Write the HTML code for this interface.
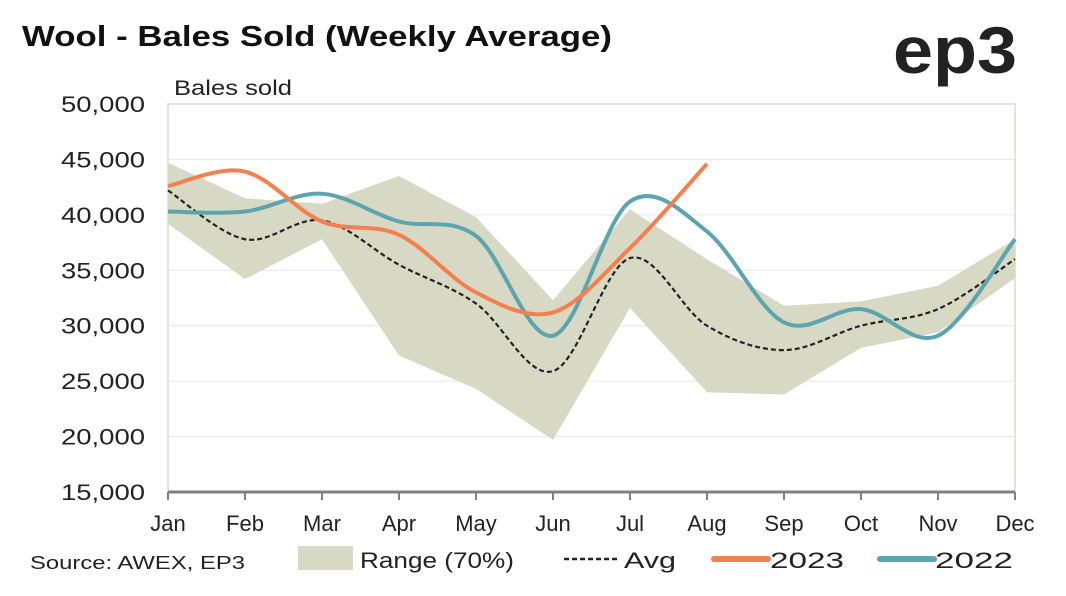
<!DOCTYPE html>
<html><head><meta charset="utf-8"><style>
body{margin:0;background:#fff;width:1066px;height:591px;overflow:hidden;font-family:"Liberation Sans",sans-serif}
</style></head><body>
<svg id="s" width="1066" height="591" xmlns="http://www.w3.org/2000/svg" font-family="Liberation Sans, sans-serif">
<text x="22" y="46" font-size="29" font-weight="bold" fill="#111" textLength="590" lengthAdjust="spacingAndGlyphs">Wool - Bales Sold (Weekly Average)</text>
<text x="893" y="73" font-size="66" font-weight="bold" fill="#222" textLength="124" lengthAdjust="spacingAndGlyphs">ep3</text>
<text x="174" y="95" font-size="21" fill="#222" textLength="118" lengthAdjust="spacingAndGlyphs">Bales sold</text>
<rect x="168" y="104" width="847" height="388" fill="none" stroke="#dcdcd0" stroke-width="1.5"/>
<g id="grid"></g>
<g id="series"></g>
<line x1="168" y1="492" x2="1015" y2="492" stroke="#808080" stroke-width="3"/>
<g id="ticks"></g>
<text x="30" y="569" font-size="18" fill="#222" textLength="215" lengthAdjust="spacingAndGlyphs">Source: AWEX, EP3</text>
<rect x="298" y="546" width="55" height="24" fill="#d8d9c5"/>
<text x="360" y="568" font-size="22" fill="#222" textLength="154" lengthAdjust="spacingAndGlyphs">Range (70%)</text>
<line x1="564" y1="559" x2="620" y2="559" stroke="#222" stroke-width="2.5" stroke-dasharray="5,3"/>
<text x="624" y="568" font-size="22" fill="#222" textLength="52" lengthAdjust="spacingAndGlyphs">Avg</text>
<line x1="714" y1="559" x2="768" y2="559" stroke="#f47f4f" stroke-width="6" stroke-linecap="round"/>
<text x="770" y="568" font-size="22" fill="#222" textLength="74" lengthAdjust="spacingAndGlyphs">2023</text>
<line x1="880" y1="559" x2="934" y2="559" stroke="#5ca5af" stroke-width="6" stroke-linecap="round"/>
<text x="935" y="568" font-size="22" fill="#222" textLength="78" lengthAdjust="spacingAndGlyphs">2022</text>
</svg>
<script>
const X=i=>168+i*77, Y=v=>492-(v-15)*11.086;
const ns="http://www.w3.org/2000/svg";
function el(p,t,a,txt){const e=document.createElementNS(ns,t);for(const k in a)e.setAttribute(k,a[k]);if(txt)e.textContent=txt;document.getElementById(p).appendChild(e);return e}
for(let v=15;v<=50;v+=5){const y=Y(v);if(v>15&&v<50)el("grid","line",{x1:168,x2:1015,y1:y,y2:y,stroke:"#e6e6e6","stroke-width":1});
el("grid","text",{x:145,y:y+8,"font-size":22,"text-anchor":"end",fill:"#222",textLength:84,lengthAdjust:"spacingAndGlyphs"},v+",000");}
const M=["Jan","Feb","Mar","Apr","May","Jun","Jul","Aug","Sep","Oct","Nov","Dec"];
M.forEach((m,i)=>{el("ticks","line",{x1:X(i),x2:X(i),y1:492,y2:500,stroke:"#808080","stroke-width":2});
el("ticks","text",{x:X(i),y:531,"font-size":22,"text-anchor":"middle",fill:"#222"},m)});
function pts(a){return a.map((v,i)=>[X(i),Y(v)])}
function smooth(p){let d="M"+p[0][0]+","+p[0][1];for(let i=0;i<p.length-1;i++){const p0=p[i-1]||p[i],p1=p[i],p2=p[i+1],p3=p[i+2]||p2;
const c1=[p1[0]+(p2[0]-p0[0])/6,p1[1]+(p2[1]-p0[1])/6],c2=[p2[0]-(p3[0]-p1[0])/6,p2[1]-(p3[1]-p1[1])/6];
d+=`C${c1} ${c2} ${p2}`;}return d}
const up=[44.7,41.5,41,43.5,39.8,32.3,40.5,36,31.8,32.2,33.6,37.8];
const lo=[39.2,34.2,37.8,27.3,24.3,19.7,31.6,24,23.8,28,29.4,34.3];
const pu=pts(up),pl=pts(lo).reverse();
el("series","path",{d:"M"+pu.map(p=>p.join(",")).join("L")+"L"+pl.map(p=>p.join(",")).join("L")+"Z",fill:"#d8d9c5"});
const avg=[42.2,37.8,39.5,35.5,32,25.9,36.1,30,27.8,30,31.5,36];
el("series","path",{d:smooth(pts(avg)),fill:"none",stroke:"#222","stroke-width":2.2,"stroke-dasharray":"5,3"});
const y22=[40.3,40.3,41.9,39.4,38.1,29.1,41.2,38.5,30.3,31.5,29.1,37.8];
el("series","path",{d:smooth(pts(y22)),fill:"none",stroke:"#5ca5af","stroke-width":4});
const y23=[42.6,43.9,39.4,38.2,33,31.2,37,44.6];
el("series","path",{d:smooth(pts(y23)),fill:"none",stroke:"#f47f4f","stroke-width":4});
</script>
</body></html>
